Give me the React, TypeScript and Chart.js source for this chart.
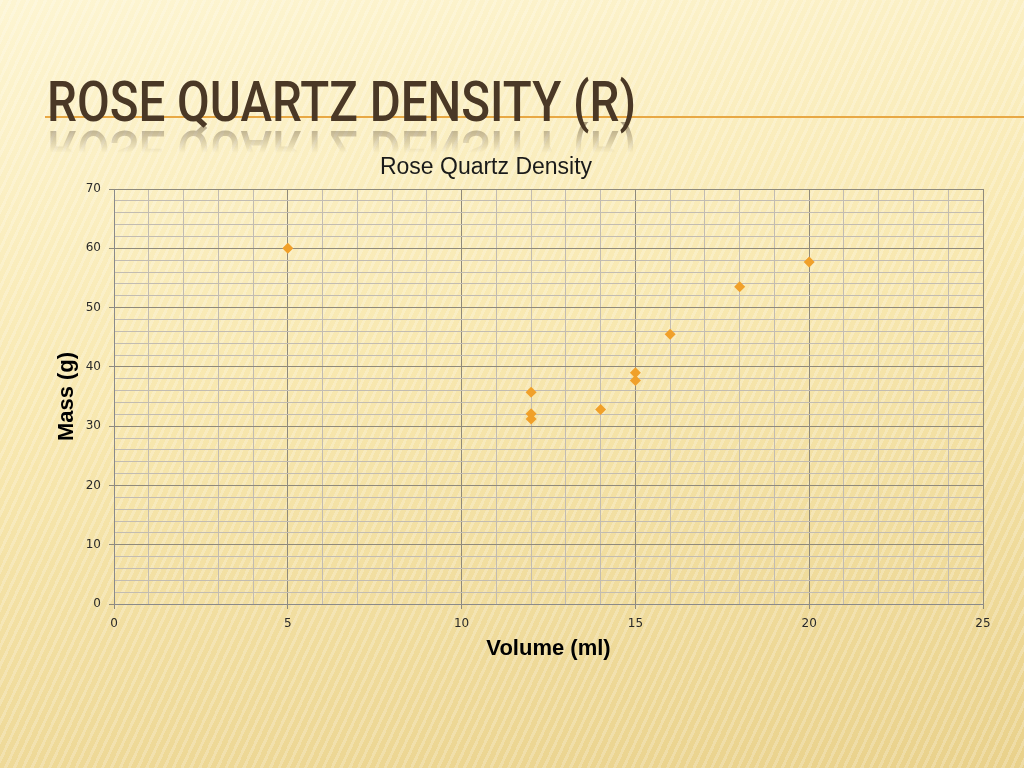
import React, { useEffect, useLayoutEffect, useRef } from "react";
import { Chart, registerables } from "chart.js";

Chart.register(...registerables);

const chartTitle = "Rose Quartz Density";
const slideTitle = "ROSE QUARTZ DENSITY (R)";
const xTitle = "Volume (ml)";
const yTitle = "Mass (g)";

const volumes = [5, 12, 12, 12, 14, 15, 15, 16, 18, 20];
const masses = [60, 35.7, 32.1, 31.2, 32.8, 39.0, 37.7, 45.5, 53.5, 57.7];

const xMin = 0;
const xMax = 25;
const xMinorStep = 1;
const xMajorStep = 5;
const yMin = 0;
const yMax = 70;
const yMinorStep = 2;
const yMajorStep = 10;

const majorGrid = "#8f8a7c";
const minorGrid = "#c2bcb2";
const pointColor = "#f0a02a";

export default function App() {
  const canvasRef = useRef<HTMLCanvasElement | null>(null);
  const titleRef = useRef<HTMLDivElement | null>(null);

  useLayoutEffect(() => {
    const el = titleRef.current;
    if (!el) return;
    const w = el.offsetWidth;
    if (w > 0) el.style.transform = `scaleX(${589 / w})`;
  }, []);

  useEffect(() => {
    const canvas = canvasRef.current;
    if (!canvas) return;
    const points = volumes.map((v, i) => ({ x: v, y: masses[i] }));
    const chart = new Chart(canvas, {
      type: "scatter",
      data: {
        datasets: [
          {
            label: "Mass",
            data: points,
            pointStyle: "rectRot",
            pointRadius: 5.5,
            backgroundColor: pointColor,
            borderColor: pointColor,
            borderWidth: 0,
          },
        ],
      },
      options: {
        responsive: false,
        animation: false,
        devicePixelRatio: 1,
        layout: { padding: { top: 153.4, left: -11, right: 41, bottom: 104 } },
        plugins: {
          legend: { display: false },
          tooltip: { enabled: false },
          title: {
            display: true,
            text: chartTitle,
            color: "#1a1a1a",
            font: { family: "Liberation Sans", size: 23, weight: "normal" },
            padding: { top: 0, bottom: 8 },
          },
        },
        scales: {
          x: {
            type: "linear",
            min: xMin,
            max: xMax,
            afterFit: (s: any) => {
              s.height = 60;
            },
            ticks: {
              stepSize: xMinorStep,
              autoSkip: false,
              maxRotation: 0,
              color: "#2a2a2a",
              font: { family: "DejaVu Sans", size: 12 },
              padding: 8,
              callback: (v: any) => (Number(v) % xMajorStep === 0 ? String(v) : ""),
            },
            grid: {
              color: (c: any) => (c.tick && c.tick.value % xMajorStep === 0 ? majorGrid : minorGrid),
              tickColor: (c: any) => (c.tick && c.tick.value % xMajorStep === 0 ? majorGrid : "rgba(0,0,0,0)"),
              tickLength: 5,
              lineWidth: 1,
            },
            border: { color: "#8a8a8a", width: 1 },
            title: {
              display: true,
              text: xTitle,
              color: "#000",
              font: { family: "Liberation Sans", size: 22, weight: "bold" },
              padding: { top: 0, bottom: 2 },
            },
          },
          y: {
            type: "linear",
            min: yMin,
            max: yMax,
            afterFit: (s: any) => {
              s.width = 125;
            },
            ticks: {
              stepSize: yMinorStep,
              autoSkip: false,
              color: "#2a2a2a",
              font: { family: "DejaVu Sans", size: 12 },
              padding: 8,
              callback: (v: any) => (Number(v) % yMajorStep === 0 ? String(v) : ""),
            },
            grid: {
              color: (c: any) => (c.tick && c.tick.value % yMajorStep === 0 ? majorGrid : minorGrid),
              tickColor: (c: any) => (c.tick && c.tick.value % yMajorStep === 0 ? majorGrid : "rgba(0,0,0,0)"),
              tickLength: 5,
              lineWidth: 1,
            },
            border: { color: "#8a8a8a", width: 1 },
            title: {
              display: true,
              text: yTitle,
              color: "#000",
              font: { family: "Liberation Sans", size: 22, weight: "bold" },
              padding: { top: 65, bottom: 0 },
            },
          },
        },
      },
    });
    return () => chart.destroy();
  }, []);

  return (
    <div
      style={{
        position: "fixed",
        left: 0,
        top: 0,
        width: 1024,
        height: 768,
        overflow: "hidden",
        background:
          "repeating-linear-gradient(115deg, rgba(255,255,255,0.22) 0px, rgba(255,255,255,0.22) 3px, rgba(255,255,255,0) 3px, rgba(255,255,255,0) 8px), linear-gradient(170deg, #fdf5d2 0%, #f8e8b0 45%, #e9d18b 100%)",
      }}
    >
      <div
        style={{
          position: "absolute",
          left: 45,
          right: 0,
          top: 116,
          height: 2,
          background: "#e8a844",
        }}
      />
      <div
        ref={titleRef}
        style={{
          position: "absolute",
          left: 47,
          top: 74,
          fontFamily: "Roboto, 'DejaVu Sans Condensed', sans-serif",
          fontWeight: 500,
          fontSize: 56,
          lineHeight: "56px",
          color: "#4a3826",
          whiteSpace: "nowrap",
          transformOrigin: "0 0",
          WebkitBoxReflect:
            "below -8px linear-gradient(transparent 45%, rgba(255,255,255,0.45))",
        } as any}
      >
        {slideTitle}
      </div>
      <canvas
        ref={canvasRef}
        width={1024}
        height={768}
        style={{ position: "absolute", left: 0, top: 0, width: 1024, height: 768 }}
      />
    </div>
  );
}
